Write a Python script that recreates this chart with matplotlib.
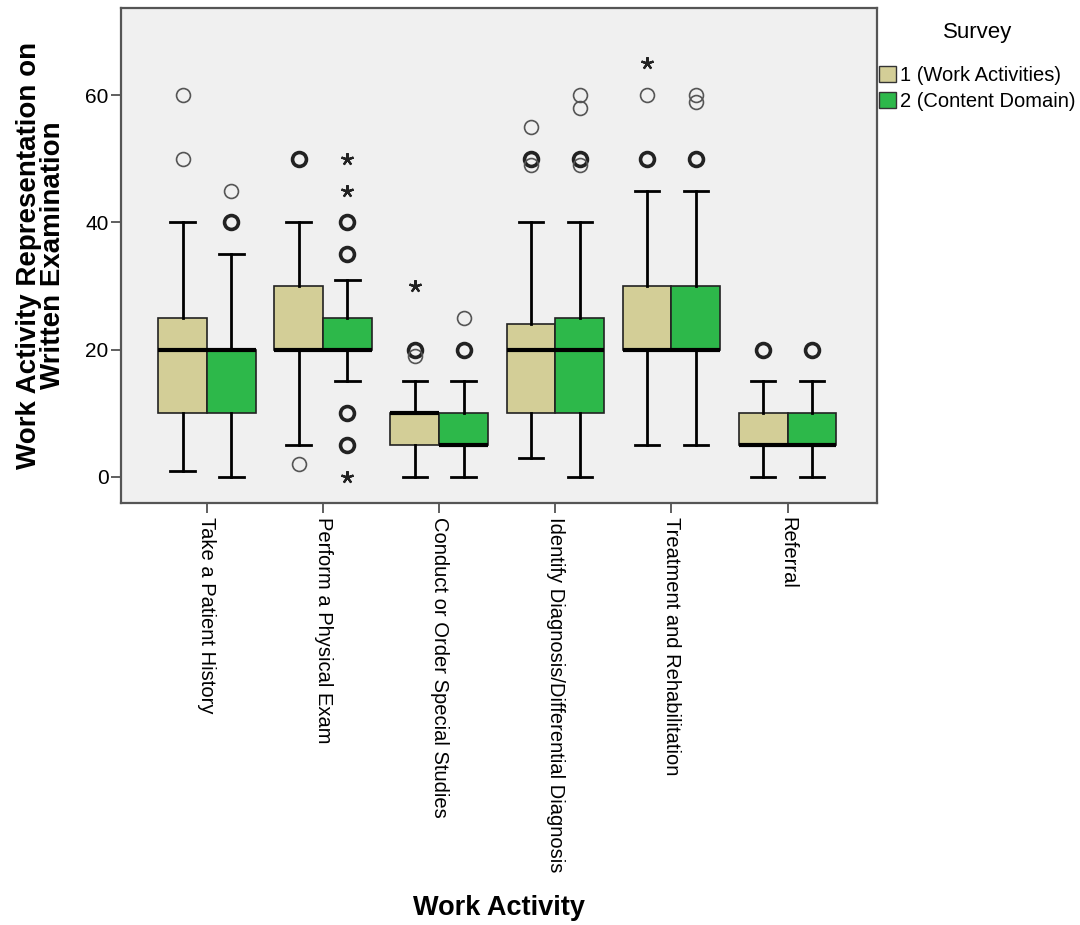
from collections import Counter

import matplotlib.pyplot as plt
import numpy as np
from matplotlib.patches import Patch

plt.rcParams['font.family'] = ['Liberation Sans', 'DejaVu Sans']

activities = ['Take a Patient History', 'Perform a Physical Exam',
              'Conduct or Order Special Studies',
              'Identify Diagnosis/Differential Diagnosis',
              'Treatment and Rehabilitation', 'Referral']
survey_names = ['1 (Work Activities)', '2 (Content Domain)']

# survey 1 (work activities): five-number summaries per activity
s1_whislo = [1, 5, 0, 3, 5, 0]
s1_q1 = [10, 20, 5, 10, 20, 5]
s1_med = [20, 20, 10, 20, 20, 5]
s1_q3 = [25, 30, 10, 24, 30, 10]
s1_whishi = [40, 40, 15, 40, 45, 15]
s1_outliers = [[60, 50], [50, 50, 50, 2], [20, 20, 19], [55, 50, 50, 49],
               [60, 50, 50, 50], [20, 20, 20]]
s1_extremes = [[], [], [30], [], [65], []]

# survey 2 (content domain)
s2_whislo = [0, 15, 0, 0, 5, 0]
s2_q1 = [10, 20, 5, 10, 20, 5]
s2_med = [20, 20, 5, 20, 20, 5]
s2_q3 = [20, 25, 10, 25, 30, 10]
s2_whishi = [35, 31, 15, 40, 45, 15]
s2_outliers = [[45, 40, 40, 40], [40, 40, 40, 35, 35, 35, 10, 10, 10, 5, 5, 5],
               [25, 20, 20, 20], [60, 58, 50, 50, 49], [60, 59, 50, 50, 50],
               [20, 20, 20]]
s2_extremes = [[], [50, 45, 0], [], [], [], []]

colors = ['#d3ce97', '#2db84a']
offset = 0.21
box_w = 0.42

fig = plt.figure(figsize=(10.8, 9.25), dpi=100)
ax = fig.add_axes([121 / 1080, 1 - 503 / 925, 756 / 1080, 495 / 925])
ax.set_facecolor('#f0f0f0')

surveys = [
    (s1_whislo, s1_q1, s1_med, s1_q3, s1_whishi, s1_outliers, s1_extremes),
    (s2_whislo, s2_q1, s2_med, s2_q3, s2_whishi, s2_outliers, s2_extremes),
]

x = np.arange(len(activities))
for k, (wlo, q1, med, q3, whi, outs, exts) in enumerate(surveys):
    pos = x + (-offset if k == 0 else offset)
    stats = [dict(whislo=wlo[i], q1=q1[i], med=med[i], q3=q3[i], whishi=whi[i], fliers=[])
             for i in range(len(activities))]
    ax.bxp(stats, positions=pos, widths=box_w, patch_artist=True, showfliers=False,
           capwidths=box_w * 0.5,
           boxprops=dict(facecolor=colors[k], edgecolor='#222222', linewidth=1.2),
           medianprops=dict(color='black', linewidth=3),
           whiskerprops=dict(color='black', linewidth=2),
           capprops=dict(color='black', linewidth=2))

    # outliers: circles, heavier outline where several cases share a value
    for i in range(len(activities)):
        for val, cnt in Counter(outs[i]).items():
            ax.plot(pos[i], val, 'o', markersize=10, markerfacecolor='none',
                    markeredgecolor='#222222' if cnt > 1 else '#555555',
                    markeredgewidth=2.6 if cnt > 1 else 1.2, zorder=4)
        for val in exts[i]:
            ax.plot(pos[i], val, marker=(5, 2, 0), markersize=9, color='#222222',
                    markeredgewidth=1.6, linestyle='none', zorder=4)

ax.set_xlim(-0.74, 5.77)
ax.set_ylim(-4.1, 73.7)
ax.set_yticks([0, 20, 40, 60])
ax.set_xticks(x)
ax.set_xticklabels(activities, rotation=270, fontsize=14.5)
ax.tick_params(axis='y', labelsize=15, length=7, width=1.2, color='#444444', pad=2)
ax.tick_params(axis='x', length=7, width=1.2, color='#444444', pad=3)
for sp in ax.spines.values():
    sp.set_color('#555555')
    sp.set_linewidth(1.6)

ax.set_ylabel('Work Activity Representation on\nWritten Examination',
              fontsize=20, fontweight='bold', linespacing=0.88, va='center')
ax.yaxis.set_label_coords(-0.106, 0.5)
ax.set_xlabel('Work Activity', fontsize=19.5, fontweight='bold', va='center')
ax.xaxis.set_label_coords(0.5, -0.818)

handles = [Patch(facecolor=c, edgecolor='#333333', linewidth=1) for c in colors]
leg = ax.legend(handles, survey_names, title='Survey', loc='upper left',
                bbox_to_anchor=(1.0, 0.975), frameon=False, fontsize=14.5,
                title_fontsize=16, handlelength=0.85, handleheight=0.85,
                handletextpad=0.2, labelspacing=0.35, borderaxespad=0.0,
                borderpad=0.1)
leg._legend_box.align = 'center'
leg._legend_box.sep = 16

fig.savefig('out.png', dpi=100, facecolor='white')
